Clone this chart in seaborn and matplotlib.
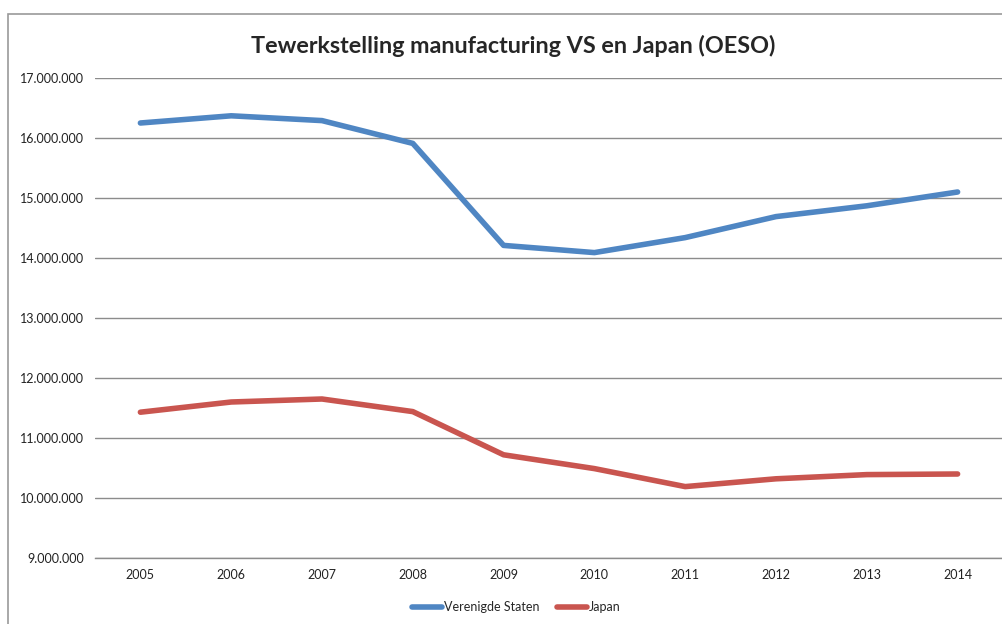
import matplotlib
matplotlib.use("Agg")
import matplotlib.pyplot as plt
import matplotlib.ticker as mticker
from matplotlib.patches import Rectangle
import seaborn as sns
import pandas as pd

# data
years = [2005, 2006, 2007, 2008, 2009, 2010, 2011, 2012, 2013, 2014]
vs = [16250000, 16370000, 16290000, 15910000, 14210000, 14090000, 14340000, 14690000, 14870000, 15100000]
japan = [11430000, 11600000, 11650000, 11440000, 10720000, 10490000, 10190000, 10320000, 10390000, 10400000]

df = pd.DataFrame({'Jaar': years * 2,
                   'Werknemers': vs + japan,
                   'Land': ['Verenigde Staten'] * len(years) + ['Japan'] * len(years)})

sns.set_style('white')
plt.rcParams['font.family'] = ['Lato', 'DejaVu Sans']

fig = plt.figure(figsize=(10.03, 6.24), dpi=100)
ax = fig.add_axes([95 / 1003, 1 - 558 / 624, 908 / 1003, 480 / 624])

sns.lineplot(data=df, x='Jaar', y='Werknemers', hue='Land',
             palette={'Verenigde Staten': '#4F86C3', 'Japan': '#C9554F'},
             linewidth=4, ax=ax)

ax.set_ylim(9000000, 17000000)
ax.set_xlim(2004.5, 2014.5)
ax.set_yticks(range(9000000, 17000001, 1000000))
ax.yaxis.set_major_formatter(mticker.FuncFormatter(lambda v, p: f'{int(v):,}'.replace(',', '.')))
ax.set_xticks(years)
ax.set_xticks([y + 0.5 for y in [2004] + years], minor=True)
ax.tick_params(axis='x', which='major', length=0, pad=8, labelsize=9, colors='#222222')
ax.tick_params(axis='x', which='minor', length=4, color='#888888', direction='out')
ax.tick_params(axis='y', length=0, pad=8, labelsize=9, colors='#222222')
ax.grid(axis='y', color='#8c8c8c', linewidth=1)
ax.set_axisbelow(True)
for s in ['top', 'right', 'left']:
    ax.spines[s].set_visible(False)
ax.spines['bottom'].set_color('#8c8c8c')
ax.spines['bottom'].set_linewidth(1)
ax.set_xlabel('')
ax.set_ylabel('')

fig.text(513 / 1003, 1 - 46 / 624, 'Tewerkstelling manufacturing VS en Japan (OESO)',
         ha='center', va='center', fontsize=16.8, fontweight='bold')

ax.legend(loc='center', bbox_to_anchor=(516 / 1003, 1 - 607 / 624),
          bbox_transform=fig.transFigure, ncol=2, frameon=False,
          fontsize=9, handlelength=2.4, handletextpad=0.15, columnspacing=1.4)

# outer chart border (cropped on the right)
fig.patches.append(Rectangle((8 / 1003, -0.1), 1.2, 1 - 14 / 624 + 0.1,
                             transform=fig.transFigure, fill=False,
                             edgecolor='#9a9a9a', linewidth=1.2))

fig.savefig('out.png', dpi=100)
